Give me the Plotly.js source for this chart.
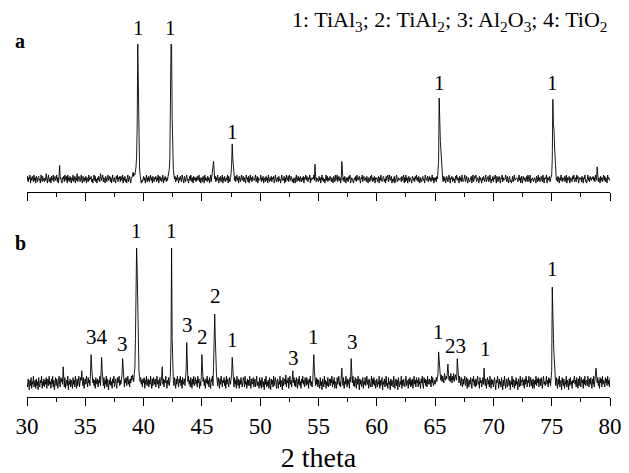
<!DOCTYPE html>
<html>
<head>
<meta charset="utf-8">
<script src="https://cdn.plot.ly/plotly-3.0.1.min.js"></script>
<style>html,body{margin:0;padding:0;background:#fff;}#chart{width:629px;height:473px;}</style>
</head>
<body>
<div id="chart"></div>
<script>
// 2-theta grid: 30.00 .. 80.00 in 0.05 degree steps (each row = 5 degrees, each group = 0.5 degree)
const thetaStart = 30.0;
const thetaStep = 0.05;

// Pattern a (relative intensity)
const intensityA = [
  4,7,3,6,5,8,2,6,4,7, 5,3,8,4,6,2,7,5,3,6, 7,4,5,2,8,6,3,7,4,5, 3,6,4,9,5,2,6,8,3,5, 6,2,7,4,5,8,3,6,7,4, 5,8,3,6,2,7,15,5,6,3, 2,6,5,7,3,8,5,4,7,2, 8,4,6,3,7,5,2,6,4,8, 3,5,7,2,6,4,9,3,5,7, 6,3,5,8,4,2,7,5,3,6,
  4,7,2,6,5,3,8,4,6,5, 7,3,5,2,6,8,4,7,3,5, 2,6,4,7,5,3,9,5,4,6, 8,3,6,4,2,7,5,3,6,8, 4,5,7,3,6,2,5,8,4,3, 6,4,2,7,5,8,3,6,5,7, 3,7,5,4,8,2,6,4,7,3, 5,2,6,8,3,5,7,4,2,6, 6,8,10,7,9,8,11,14,22,45, 105,60,30,14,8,3,2,4,3,5,
  7,4,6,2,5,8,3,6,4,7, 3,5,8,4,6,2,7,5,3,6, 5,7,3,6,4,8,2,5,7,4, 6,3,5,8,2,6,4,7,5,3, 6,4,7,9,12,20,60,105,104,50, 20,12,8,5,7,3,6,4,8,5, 2,6,4,7,5,3,8,6,4,2, 7,5,3,6,8,4,5,2,6,7, 4,8,5,3,6,2,7,5,4,6, 3,6,7,4,5,8,3,6,2,5,
  6,3,7,5,2,8,4,6,5,3, 7,4,6,2,5,8,3,7,6,10, 18,11,5,7,3,6,4,8,5,2, 6,4,7,3,5,8,2,6,4,7, 3,5,6,4,8,2,7,5,3,6, 9,16,31,20,12,6,4,7,3,5, 8,4,6,2,7,5,3,6,8,4, 5,7,3,6,4,2,8,5,6,3, 7,2,5,8,4,6,3,7,5,4, 4,6,8,3,5,7,2,6,4,5,
  5,8,3,6,4,7,2,5,6,3, 7,4,6,2,8,5,3,6,4,7, 3,6,5,7,2,4,8,5,3,6, 6,3,7,4,5,2,6,8,4,5, 4,7,2,6,3,8,5,4,7,3, 8,5,4,7,6,3,5,2,6,4, 2,6,8,3,5,7,4,6,3,7, 5,3,6,4,7,2,6,5,8,4, 7,4,3,6,5,8,2,6,4,5, 6,5,8,4,16,7,3,6,5,4,
  3,7,4,6,2,5,8,4,6,3, 5,2,6,8,4,7,3,5,6,4, 7,5,3,6,4,2,7,5,3,8, 4,6,8,3,5,7,4,6,2,5, 18,8,4,6,3,7,5,2,6,4, 6,3,7,5,8,2,4,6,5,3, 2,5,6,4,7,3,8,5,4,6, 7,4,2,6,5,8,3,6,7,4, 5,6,3,7,4,2,6,5,3,7, 4,8,5,3,6,4,7,2,6,5,
  6,3,5,7,2,6,4,8,5,3, 4,7,6,3,5,2,7,4,6,8, 3,5,8,4,6,7,2,5,3,6, 7,2,4,6,8,3,5,6,4,5, 5,6,3,7,4,5,8,2,6,3, 8,4,6,2,5,7,3,6,5,4, 2,7,5,4,6,3,7,5,8,4, 6,3,7,5,2,6,4,3,6,7, 4,5,2,8,6,4,5,7,3,5, 7,4,6,3,5,8,4,6,2,6,
  4,6,3,7,5,10,18,65,34,33, 26,14,8,5,3,7,4,6,2,5, 7,5,3,6,8,4,2,6,5,7, 3,6,4,5,2,7,5,8,4,6, 5,2,7,4,6,3,8,5,3,4, 6,8,3,5,7,4,2,6,5,3, 4,5,7,2,6,8,3,5,7,6, 8,3,5,6,4,2,7,4,6,3, 2,6,4,7,5,3,6,8,3,5, 5,7,3,4,8,6,2,5,4,7,
  3,6,5,8,4,2,7,5,3,6, 7,4,2,6,5,8,3,6,4,5, 5,8,4,3,7,5,2,6,7,3, 4,2,6,7,3,5,8,4,5,6, 6,5,3,5,8,4,6,2,7,4, 2,7,5,4,6,3,5,7,3,8, 7,3,6,8,2,5,4,6,5,3, 5,6,4,2,7,6,3,8,4,6, 3,4,7,5,3,8,5,2,6,5, 6,8,2,6,4,5,7,3,5,7,
  8,20,64,45,42,28,15,9,4,6, 3,7,5,2,6,4,8,5,3,6, 5,4,7,3,6,8,2,6,4,7, 7,2,5,6,4,3,7,5,8,3, 4,6,3,8,5,7,2,4,6,5, 6,3,7,5,2,6,5,8,3,4, 2,5,8,4,6,3,7,5,4,6, 5,7,4,6,3,8,5,4,14,7, 3,6,5,2,7,4,6,3,5,8, 4,7,3,6,5,2,8,5,6,4,
  5
];

// Pattern b (relative intensity)
const intensityB = [
  7,4,10,6,2,9,5,11,3,8, 6,12,4,7,9,3,10,5,8,2, 11,6,4,9,7,12,3,8,5,10, 4,9,6,11,3,7,10,5,12,6, 8,3,10,6,12,4,9,2,7,11, 5,10,7,3,9,12,6,4,11,8, 10,6,19,8,4,11,3,7,9,5, 12,2,8,6,10,4,9,7,3,11, 6,9,4,12,7,3,10,5,8,12, 4,7,11,9,16,8,5,11,3,9,
  10,6,12,8,4,11,7,9,5,16, 28,18,12,7,10,5,9,3,11,8, 6,10,4,9,7,12,5,14,26,16, 8,5,11,3,9,6,12,4,10,7, 2,9,6,11,5,8,3,10,7,12, 4,8,10,6,3,11,7,9,12,5, 9,6,11,13,25,14,8,4,10,7, 11,5,8,12,6,9,4,10,7,12, 9,13,11,8,14,18,40,75,107,90, 55,28,16,12,8,11,6,9,4,10,
  7,11,3,9,6,12,5,8,10,4, 9,6,12,7,3,10,5,11,8,6, 10,4,8,12,6,9,3,7,11,5, 8,12,19,6,10,4,9,7,12,5, 3,9,6,11,5,8,14,35,107,40, 15,9,5,11,7,3,10,6,12,8, 4,10,7,12,5,9,3,11,6,8, 10,5,9,17,37,20,8,12,6,9, 4,11,7,3,10,6,12,5,8,11, 6,9,4,12,7,10,3,8,5,12,
  28,14,8,11,5,9,3,10,7,12, 6,9,4,11,7,3,10,8,12,5, 20,35,58,40,22,13,9,5,11,7, 3,10,6,12,8,4,9,7,11,5, 9,3,12,6,10,7,4,11,8,6, 10,13,26,15,8,4,11,6,9,3, 12,7,5,10,3,9,6,11,8,4, 7,11,9,4,12,6,8,3,10,5, 9,5,12,7,3,10,6,8,11,4, 6,10,4,9,12,5,8,7,3,11,
  5,9,3,11,7,4,8,2,10,6, 12,4,8,5,9,3,11,7,2,10, 6,9,4,12,5,8,11,7,3,9, 10,3,8,6,12,4,9,7,2,11, 5,8,10,6,13,4,9,7,11,3, 8,12,6,9,4,10,16,7,11,5, 9,4,11,7,3,10,6,12,5,8, 3,10,7,12,6,9,4,11,8,5, 11,6,9,3,10,7,12,5,8,4, 7,14,28,16,9,5,11,6,10,4,
  9,6,3,11,5,8,2,10,7,4, 12,6,9,3,8,5,11,4,7,10, 5,10,7,12,4,9,6,11,3,8, 7,3,11,6,9,12,5,8,4,10, 18,9,5,11,3,8,6,12,7,4, 10,6,9,3,11,8,25,16,7,12, 5,9,4,11,7,3,10,6,12,8, 2,10,6,9,4,7,11,3,8,6, 11,5,8,12,6,9,3,10,7,4, 8,12,4,10,6,11,5,9,3,10,
  10,4,8,6,12,3,9,5,7,11, 2,8,6,10,4,9,12,5,7,3, 11,6,8,2,10,5,9,7,4,12, 6,3,8,10,5,9,2,11,7,4, 8,6,12,3,9,5,10,7,4,8, 12,5,9,7,3,10,6,11,4,9, 5,10,3,8,12,6,9,4,11,7, 9,4,11,6,8,3,10,7,12,5, 3,11,7,10,5,9,4,12,6,8, 10,6,9,4,12,7,11,5,8,9,
  6,9,11,8,10,14,30,20,16,12, 9,13,8,12,10,7,14,11,9,12, 10,15,21,13,9,12,8,14,10,7, 12,9,14,8,11,13,10,9,25,15, 10,7,12,9,5,11,8,4,10,6, 9,12,5,8,11,3,10,7,4,9, 6,11,7,3,10,8,12,5,9,4, 10,5,9,12,6,8,3,11,7,9, 4,8,11,6,18,9,5,10,3,8, 11,6,9,4,12,7,3,10,6,9,
  4,8,11,6,2,9,7,12,5,3, 10,6,8,4,11,7,2,9,5,12, 6,3,8,10,4,7,11,5,9,2, 8,6,12,4,10,7,3,9,5,11, 6,8,2,10,7,4,12,5,9,8, 11,5,9,3,10,6,12,7,4,9, 7,12,4,8,11,5,9,3,10,6, 3,9,6,12,5,10,7,11,4,8, 10,5,11,7,3,9,12,6,8,5, 8,12,6,9,4,11,7,10,5,12,
  16,78,45,40,28,15,9,5,11,7, 3,10,6,12,4,8,9,2,11,7, 5,10,3,8,6,12,4,9,7,2, 10,5,11,6,8,3,9,7,10,12, 6,9,4,11,7,3,10,5,12,8, 4,11,7,9,3,10,6,12,5,8, 9,5,12,8,4,10,6,11,7,3, 10,6,12,4,8,12,18,13,7,11, 5,9,3,11,7,10,4,12,6,9, 8,4,11,7,10,5,12,6,9,4,
  11
];

// Phase labels above the peaks
const peakLabelsA_x = [39.55, 42.3, 47.6, 65.35, 75.1];
const peakLabelsA_y = [117, 117, 39.8, 76.1, 76.1];
const peakLabelsA_text = ["1", "1", "1", "1", "1"];

const peakLabelsB_x = [35.97, 38.2, 39.4, 42.35, 43.8, 45.04, 46.14, 47.6, 52.88, 54.6, 57.93, 65.27, 66.73, 69.28, 75.05];
const peakLabelsB_y = [40.7, 36.1, 119.7, 119.7, 50, 41.3, 71.6, 38.9, 25.3, 40.7, 37, 44.4, 34.6, 32, 91.3];
const peakLabelsB_text = ["34", "3", "1", "1", "3", "2", "2", "1", "3", "1", "3", "1", "23", "1", "1"];

const panelLabels = ["a", "b"];
const legendText = "1: TiAl<sub>3</sub>; 2: TiAl<sub>2</sub>; 3: Al<sub>2</sub>O<sub>3</sub>; 4: TiO<sub>2</sub>";
const xTitle = "2 theta";

function thetaGrid(n) {
  const out = [];
  for (let i = 0; i < n; i++) out.push(Number((thetaStart + i * thetaStep).toFixed(2)));
  return out;
}

const serif = "Liberation Serif, Times New Roman, serif";

const traces = [
  {x: thetaGrid(intensityA.length), y: intensityA, xaxis: "x2", yaxis: "y2", type: "scatter", mode: "lines",
   line: {color: "#000", width: 0.9}, hoverinfo: "skip", showlegend: false},
  {x: thetaGrid(intensityB.length), y: intensityB, xaxis: "x", yaxis: "y", type: "scatter", mode: "lines",
   line: {color: "#000", width: 0.9}, hoverinfo: "skip", showlegend: false}
];

const annotations = [];
peakLabelsA_x.forEach((x, i) => annotations.push({x: x, y: peakLabelsA_y[i], xref: "x2", yref: "y2",
  text: peakLabelsA_text[i], showarrow: false, xanchor: "center", yanchor: "middle",
  font: {family: serif, size: 21, color: "#000"}}));
peakLabelsB_x.forEach((x, i) => annotations.push({x: x, y: peakLabelsB_y[i], xref: "x", yref: "y",
  text: peakLabelsB_text[i], showarrow: false, xanchor: "center", yanchor: "middle",
  font: {family: serif, size: 21, color: "#000"}}));
annotations.push({x: -0.012, y: 0.944, xref: "paper", yref: "paper", text: "<b>" + panelLabels[0] + "</b>",
  showarrow: false, xanchor: "center", yanchor: "middle", font: {family: serif, size: 20, color: "#000"}});
annotations.push({x: -0.012, y: 0.4085, xref: "paper", yref: "paper", text: "<b>" + panelLabels[1] + "</b>",
  showarrow: false, xanchor: "center", yanchor: "middle", font: {family: serif, size: 20, color: "#000"}});
annotations.push({x: 1.0, y: 0.997, xref: "paper", yref: "paper", text: legendText,
  showarrow: false, xanchor: "right", yanchor: "middle", font: {family: serif, size: 22, color: "#000"}});

const xCommon = {
  range: [30, 80], showgrid: false, zeroline: false, showline: true, linecolor: "#000", linewidth: 1,
  ticks: "outside", ticklen: 8, tickwidth: 1, tickcolor: "#000", dtick: 5, tick0: 30,
  minor: {ticks: "outside", ticklen: 4, tickwidth: 1, tickcolor: "#000", dtick: 2.5, showgrid: false},
  tickfont: {family: serif, size: 23, color: "#000"}, fixedrange: true
};

const layout = {
  width: 629, height: 473,
  margin: {l: 27, r: 19, t: 20, b: 76},
  paper_bgcolor: "#fff", plot_bgcolor: "#fff",
  showlegend: false,
  font: {family: serif, color: "#000"},
  xaxis: Object.assign({}, xCommon, {anchor: "y", title: {text: xTitle, font: {family: serif, size: 28, color: "#000"}, standoff: 16}}),
  xaxis2: Object.assign({}, xCommon, {anchor: "y2", matches: "x", showticklabels: false}),
  yaxis: {domain: [0, 0.4562], range: [-3.4, 124.0], visible: false, fixedrange: true},
  yaxis2: {domain: [0.5438, 1], range: [-4.6, 122.8], visible: false, fixedrange: true},
  annotations: annotations
};

Plotly.newPlot("chart", traces, layout, {staticPlot: true, displayModeBar: false});
</script>
</body>
</html>
